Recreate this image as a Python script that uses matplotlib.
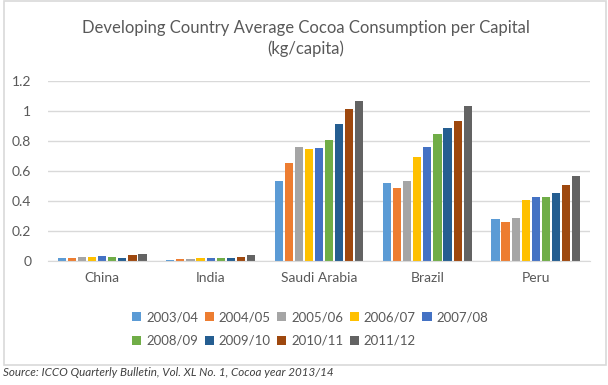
import numpy as np
import matplotlib.pyplot as plt
from matplotlib.patches import Rectangle

plt.rcParams['font.family'] = ['Lato', 'DejaVu Sans']

countries = ['China', 'India', 'Saudi Arabia', 'Brazil', 'Peru']
years = ['2003/04', '2004/05', '2005/06', '2006/07', '2007/08',
         '2008/09', '2009/10', '2010/11', '2011/12']
colors = ['#5B9BD5', '#ED7D31', '#A5A5A5', '#FFC000', '#4472C4',
          '#70AD47', '#255E91', '#9E480E', '#636363']

# consumption, kg/capita, one row per season
china = [0.015, 0.02, 0.025, 0.025, 0.03, 0.025, 0.02, 0.035, 0.045]
india = [0.005, 0.01, 0.01, 0.015, 0.02, 0.015, 0.02, 0.025, 0.035]
saudi = [0.53, 0.65, 0.756, 0.747, 0.751, 0.805, 0.909, 1.013, 1.063]
brazil = [0.518, 0.487, 0.533, 0.689, 0.758, 0.842, 0.882, 0.931, 1.029]
peru = [0.276, 0.26, 0.287, 0.405, 0.422, 0.422, 0.449, 0.507, 0.565]

vals = np.array([china, india, saudi, brazil, peru])

fig = plt.figure(figsize=(6.08, 3.85), dpi=100)
ax = fig.add_axes([48/608, 1-260.7/385, 542/608, 180/385])

x = np.arange(len(countries))
step = 0.093
w = 0.075
for i, yr in enumerate(years):
    ax.bar(x + (i - 4) * step, vals[:, i], width=w, color=colors[i], label=yr)

ax.set_xlim(-0.5, 4.5)
ax.set_ylim(0, 1.2)
ax.set_yticks(np.arange(0, 1.21, 0.2))
ax.set_yticklabels(['0', '0.2', '0.4', '0.6', '0.8', '1', '1.2'])
ax.set_xticks(x)
ax.set_xticklabels(countries)
ax.yaxis.grid(True, color='#D9D9D9', linewidth=1)
ax.set_axisbelow(True)
for s in ['top', 'right', 'left']:
    ax.spines[s].set_visible(False)
ax.spines['bottom'].set_color('#D9D9D9')
ax.tick_params(axis='both', length=0, labelsize=10, colors='#595959')
ax.tick_params(axis='x', pad=8)
ax.tick_params(axis='y', pad=12)

fig.text(0.503, 1-38.5/385, 'Developing Country Average Cocoa Consumption per Capital\n(kg/capita)',
         ha='center', va='center', fontsize=12, color='#595959', linespacing=1.3)

h, l = ax.get_legend_handles_labels()
order = [0, 5, 1, 6, 2, 7, 3, 8, 4]
fig.legend([h[k] for k in order], [l[k] for k in order], ncol=5,
           loc='center', bbox_to_anchor=(0.51, 1-329/385), frameon=False,
           fontsize=9.5, labelcolor='#595959', handlelength=0.7, handleheight=0.7,
           handletextpad=0.35, columnspacing=0.5, labelspacing=0.9, borderaxespad=0)

fig.patches.append(Rectangle((4/608, 1-365/385), 602/608, 364/385, transform=fig.transFigure,
                             fill=False, edgecolor='#D9D9D9', linewidth=1.2))

fig.text(3/608, 1-373/385, 'Source: ICCO Quarterly Bulletin, Vol. XL No. 1, Cocoa year 2013/14',
         ha='left', va='center', fontsize=8.4, style='italic', color='#404040')

fig.savefig('out.png', dpi=100)
